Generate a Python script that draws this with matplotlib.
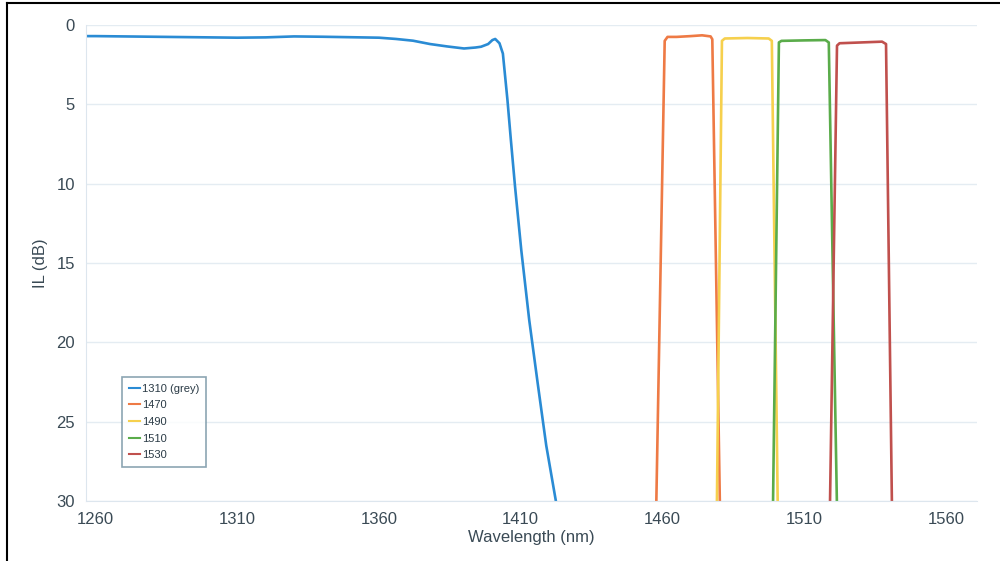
import matplotlib
matplotlib.use('Agg')
import matplotlib.pyplot as plt
from matplotlib.lines import Line2D

plt.rcParams['font.family'] = ['Liberation Sans', 'DejaVu Sans']

# datos (longitud de onda nm, IL dB)
wl_1310 = [1256.6, 1260, 1270, 1285, 1300, 1310, 1320, 1330, 1340, 1350, 1360, 1366, 1372, 1378,
           1384, 1390, 1394, 1396, 1398.5, 1400, 1401, 1402.5, 1403.7, 1405.3, 1406.5, 1408,
           1410.2, 1413, 1416, 1419, 1422.4, 1423]
il_1310 = [0.70, 0.70, 0.72, 0.75, 0.78, 0.80, 0.78, 0.72, 0.74, 0.77, 0.80, 0.88, 0.99, 1.20,
           1.35, 1.48, 1.42, 1.37, 1.20, 0.95, 0.88, 1.15, 1.8, 4.7, 7.2, 10.2,
           14.2, 18.6, 22.6, 26.5, 30.0, 30.8]

wl_1470 = [1457.8, 1460.8, 1461.8, 1465, 1470, 1474, 1477.0, 1477.6, 1480.3]
il_1470 = [30.5, 1.0, 0.75, 0.75, 0.70, 0.65, 0.72, 0.9, 30.5]

wl_1490 = [1479.2, 1481.0, 1482, 1490, 1497.5, 1498.6, 1500.7]
il_1490 = [30.5, 1.0, 0.85, 0.82, 0.85, 1.0, 30.5]

wl_1510 = [1499.0, 1501.1, 1502, 1510, 1517.5, 1518.7, 1521.6]
il_1510 = [30.5, 1.1, 1.0, 0.97, 0.95, 1.1, 30.5]

wl_1530 = [1519.1, 1521.6, 1522.5, 1530, 1537.5, 1538.9, 1541.0]
il_1530 = [30.5, 1.3, 1.15, 1.1, 1.05, 1.2, 30.5]

etiquetas = ['1310 (grey)', '1470', '1490', '1510', '1530']
colores = ['#2a8bd4', '#ee7a45', '#f6d04d', '#5aac4a', '#c0504d']
x_ticks = [1260, 1310, 1360, 1410, 1460, 1510, 1560]
y_ticks = [0, 5, 10, 15, 20, 25, 30]

fig = plt.figure(figsize=(10, 5.61), dpi=100)
ax = fig.add_axes([86 / 1000, 1 - 501 / 561, (977 - 86) / 1000, (501 - 25) / 561])

series = [(wl_1310, il_1310), (wl_1470, il_1470), (wl_1490, il_1490),
          (wl_1510, il_1510), (wl_1530, il_1530)]
for (x, y), c, lab in zip(series, colores, etiquetas):
    ax.plot(x, y, color=c, lw=1.9, label=lab, solid_joinstyle='round')

ax.set_xlim(1256.6, 1571)
ax.set_ylim(30, 0)
ax.set_xticks(x_ticks)
ax.set_yticks(y_ticks)
ax.grid(True, axis='y', color='#e4ecf2', lw=1)
ax.set_axisbelow(True)
for s in ['top', 'right']:
    ax.spines[s].set_visible(False)
for s in ['left', 'bottom']:
    ax.spines[s].set_color('#dde6ee')
ax.tick_params(length=0, labelsize=12, labelcolor='#3a4a55', pad=8)
ax.set_xlabel('Wavelength (nm)', fontsize=12, color='#3a4a55', labelpad=2)
ax.set_ylabel('IL (dB)', fontsize=12, color='#3a4a55', labelpad=6)

handles = [Line2D([], [], color=c, lw=1.5) for c in colores]
leg = ax.legend(handles, etiquetas, loc='upper left', bbox_to_anchor=(0.0404, 0.2605),
                borderaxespad=0, fontsize=8, frameon=True, fancybox=False, handlelength=1.0,
                handletextpad=0.2, borderpad=0.6, labelspacing=0.6)
leg.get_frame().set_edgecolor('#6f8fa0')
leg.get_frame().set_linewidth(1.2)
for t in leg.get_texts():
    t.set_color('#2a3a45')

# marco de la figura (izquierda y arriba)
fig.add_artist(Line2D([0.007, 0.007], [0, 0.995], color='black', lw=1.5, transform=fig.transFigure))
fig.add_artist(Line2D([0.007, 1.0], [0.995, 0.995], color='black', lw=1.5, transform=fig.transFigure))

fig.savefig('out.png', dpi=100)
